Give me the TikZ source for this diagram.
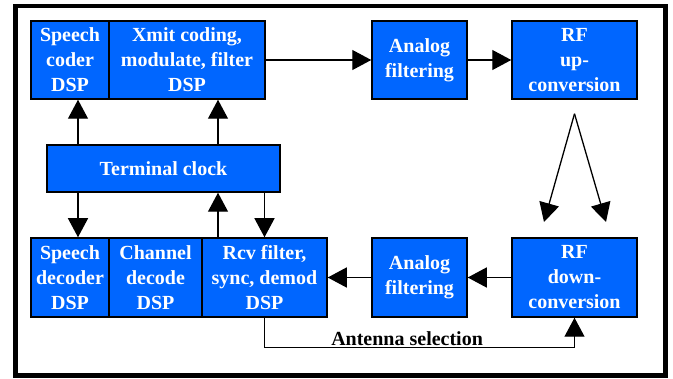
\documentclass[tikz,border=0pt]{standalone}
\usepackage{fontspec}
\setmainfont{Liberation Serif}
\usepackage{tikz}
\usetikzlibrary{calc}
\usetikzlibrary{arrows.meta}
\usetikzlibrary{positioning}
\definecolor{dspblue}{RGB}{0,102,255}

\begin{document}
\begin{tikzpicture}[
x=1pt,y=-1pt,
Blocks/.style={draw=black,fill=dspblue,line width=1.5pt,text=white,
  font=\fontsize{20}{25}\selectfont\bfseries,align=center,inner sep=1pt,
  minimum height=78pt},
Links/.style={draw=black,line width=1.3pt,-{Triangle[length=19pt,width=20pt]}},
Frame/.style={draw=black,line width=4.5pt}
]
\useasboundingbox (0,0) rectangle (673,379);
\draw[Frame] (15.5,6) rectangle (665.5,375.5);

% transmit chain
\node[Blocks,minimum width=78pt]  (spc)  at (70,60)    {Speech\\coder\\DSP};
\node[Blocks,minimum width=156pt] (xmit) at (187,60)   {Xmit coding,\\modulate, filter\\DSP};
\node[Blocks,minimum width=95pt]  (afup) at (419.5,60) {Analog\\filtering};
\node[Blocks,minimum width=125pt] (rfup) at (574.5,60) {RF\\up-\\conversion};

\node[Blocks,minimum width=233pt,minimum height=47pt] (clock) at (163.5,168.5) {Terminal clock};

% receive chain
\node[Blocks,minimum width=78pt,minimum height=79pt]  (spd)  at (70,277.5)    {Speech\\decoder\\DSP};
\node[Blocks,minimum width=93pt,minimum height=79pt]  (chd)  at (155.5,277.5) {Channel\\decode\\DSP};
\node[Blocks,minimum width=125pt,minimum height=79pt] (rcv)  at (264.5,277.5) {Rcv filter,\\sync, demod\\DSP};
\node[Blocks,minimum width=95pt,minimum height=79pt]  (afdn) at (419.5,277.5) {Analog\\filtering};
\node[Blocks,minimum width=125pt,minimum height=79pt] (rfdn) at (574.5,277.5) {RF\\down-\\conversion};

\draw[Links] (xmit) -- (afup);
\draw[Links] (afup) -- (rfup);
\draw[Links] (rfdn) -- (afdn);
\draw[Links] (afdn) -- (rcv);

% clock lines
\coordinate (tA) at ($(spc.south)+(8,0)$);
\coordinate (tB) at ($(xmit.south)+(31,0)$);
\coordinate (tC) at ($(spd.north)+(8,0)$);
\coordinate (tD) at ($(rcv.north)+(-46.5,0)$);
\draw[Links] (clock.north -| tA) -- (tA);
\draw[Links] (clock.north -| tB) -- (tB);
\draw[Links] (clock.south -| tC) -- (tC);
\draw[Links] (tD) -- (clock.south -| tD);
\draw[Links] (clock.south -| rcv.north) -- (rcv.north);

\draw[Links] (rcv.south) -- ++(0,30) -| (rfdn.south)
  node[pos=0.23,above,inner sep=1pt,font=\fontsize{20}{25}\selectfont\bfseries] {Antenna selection};

% antenna
\coordinate (ant) at ($(rfup.south)+(0,14)$);
\coordinate (rxL) at (544,222);
\coordinate (rxR) at (606,222);
\draw[Links] (ant) -- (rxL);
\draw[Links] (ant) -- (rxR);

\end{tikzpicture}
\end{document}
